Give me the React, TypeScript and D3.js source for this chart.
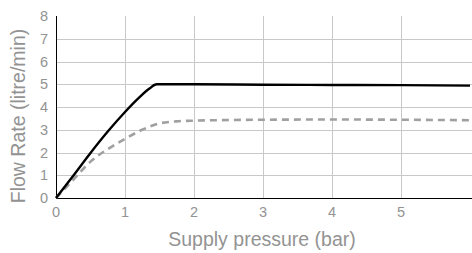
import React, { useEffect, useRef } from "react";
import * as d3 from "d3";

// values
const pressure = [0, 0.25, 0.5, 0.75, 1, 1.2, 1.35, 1.46, 2, 3, 4, 5, 6];
const solidFlow = [0, 0.98, 1.98, 2.92, 3.78, 4.4, 4.8, 5.0, 5.0, 4.98, 4.97, 4.96, 4.94];
const dashedPressure = [0, 0.25, 0.5, 0.75, 1, 1.25, 1.5, 1.75, 2, 3, 4, 5, 6];
const dashedFlow = [0, 0.8, 1.6, 2.15, 2.6, 3.0, 3.28, 3.37, 3.4, 3.44, 3.45, 3.44, 3.42];
const xTicks = [0, 1, 2, 3, 4, 5];
const yTicks = [0, 1, 2, 3, 4, 5, 6, 7, 8];

export default function App() {
  const ref = useRef<SVGSVGElement>(null);

  useEffect(() => {
    draw();
  }, []);

  const draw = () => {
    const svg = d3.select(ref.current);
    svg.selectAll("*").remove();

    const width = 472;
    const height = 253;
    const margin = { left: 56, right: 2, top: 16, bottom: 55 };

    const x = d3.scaleLinear().domain([0, 6]).range([margin.left, width - margin.right]);
    const y = d3.scaleLinear().domain([0, 8]).range([height - margin.bottom, margin.top]);

    const font = "'Liberation Sans', Arial, sans-serif";
    const grey = "#939393";

    // grid
    svg
      .append("g")
      .selectAll("line")
      .data(yTicks.filter((d) => d > 0 && d < 8))
      .enter()
      .append("line")
      .attr("x1", x(0))
      .attr("x2", width)
      .attr("y1", (d) => Math.round(y(d)) + 0.5)
      .attr("y2", (d) => Math.round(y(d)) + 0.5)
      .attr("stroke", "#c8c8c8");

    svg
      .append("g")
      .selectAll("line")
      .data(xTicks.filter((d) => d > 0))
      .enter()
      .append("line")
      .attr("x1", (d) => Math.round(x(d)) + 0.5)
      .attr("x2", (d) => Math.round(x(d)) + 0.5)
      .attr("y1", y(8))
      .attr("y2", y(0))
      .attr("stroke", "#c8c8c8");

    // axes
    svg
      .append("line")
      .attr("x1", Math.round(x(0)) + 0.5)
      .attr("x2", Math.round(x(0)) + 0.5)
      .attr("y1", y(8))
      .attr("y2", y(0))
      .attr("stroke", "#000");
    svg
      .append("line")
      .attr("x1", x(0))
      .attr("x2", width)
      .attr("y1", Math.round(y(0)) + 0.5)
      .attr("y2", Math.round(y(0)) + 0.5)
      .attr("stroke", "#000")
      .attr("stroke-width", 1.2);

    // tick labels
    svg
      .append("g")
      .selectAll("text")
      .data(yTicks)
      .enter()
      .append("text")
      .attr("x", x(0) - 8)
      .attr("y", (d) => y(d))
      .attr("dy", "0.35em")
      .attr("text-anchor", "end")
      .attr("font-family", font)
      .attr("font-size", 14.5)
      .attr("fill", grey)
      .text((d) => d);

    svg
      .append("g")
      .selectAll("text")
      .data(xTicks)
      .enter()
      .append("text")
      .attr("x", (d) => x(d))
      .attr("y", y(0) + 19)
      .attr("text-anchor", "middle")
      .attr("font-family", font)
      .attr("font-size", 14.5)
      .attr("fill", grey)
      .text((d) => d);

    // axis titles
    svg
      .append("text")
      .attr("x", 262)
      .attr("y", 246)
      .attr("text-anchor", "middle")
      .attr("font-family", font)
      .attr("font-size", 19.5)
      .attr("fill", grey)
      .text("Supply pressure (bar)");

    svg
      .append("text")
      .attr("transform", `translate(25, 116) rotate(-90)`)
      .attr("text-anchor", "middle")
      .attr("font-family", font)
      .attr("font-size", 19.5)
      .attr("fill", grey)
      .text("Flow Rate (litre/min)");

    // lines
    const line = d3
      .line<[number, number]>()
      .x((d) => x(d[0]))
      .y((d) => y(d[1]))
      .curve(d3.curveMonotoneX);

    svg
      .append("path")
      .datum(dashedPressure.map((p, i) => [p, dashedFlow[i]] as [number, number]))
      .attr("d", line)
      .attr("fill", "none")
      .attr("stroke", "#a0a0a0")
      .attr("stroke-width", 2.6)
      .attr("stroke-dasharray", "7,5");

    svg
      .append("path")
      .datum(pressure.map((p, i) => [p, solidFlow[i]] as [number, number]))
      .attr("d", line)
      .attr("fill", "none")
      .attr("stroke", "#000")
      .attr("stroke-width", 2.4);
  };

  return (
    <svg
      ref={ref}
      width={472}
      height={253}
      style={{ position: "absolute", left: 0, top: 0, background: "#fff" }}
    />
  );
}
